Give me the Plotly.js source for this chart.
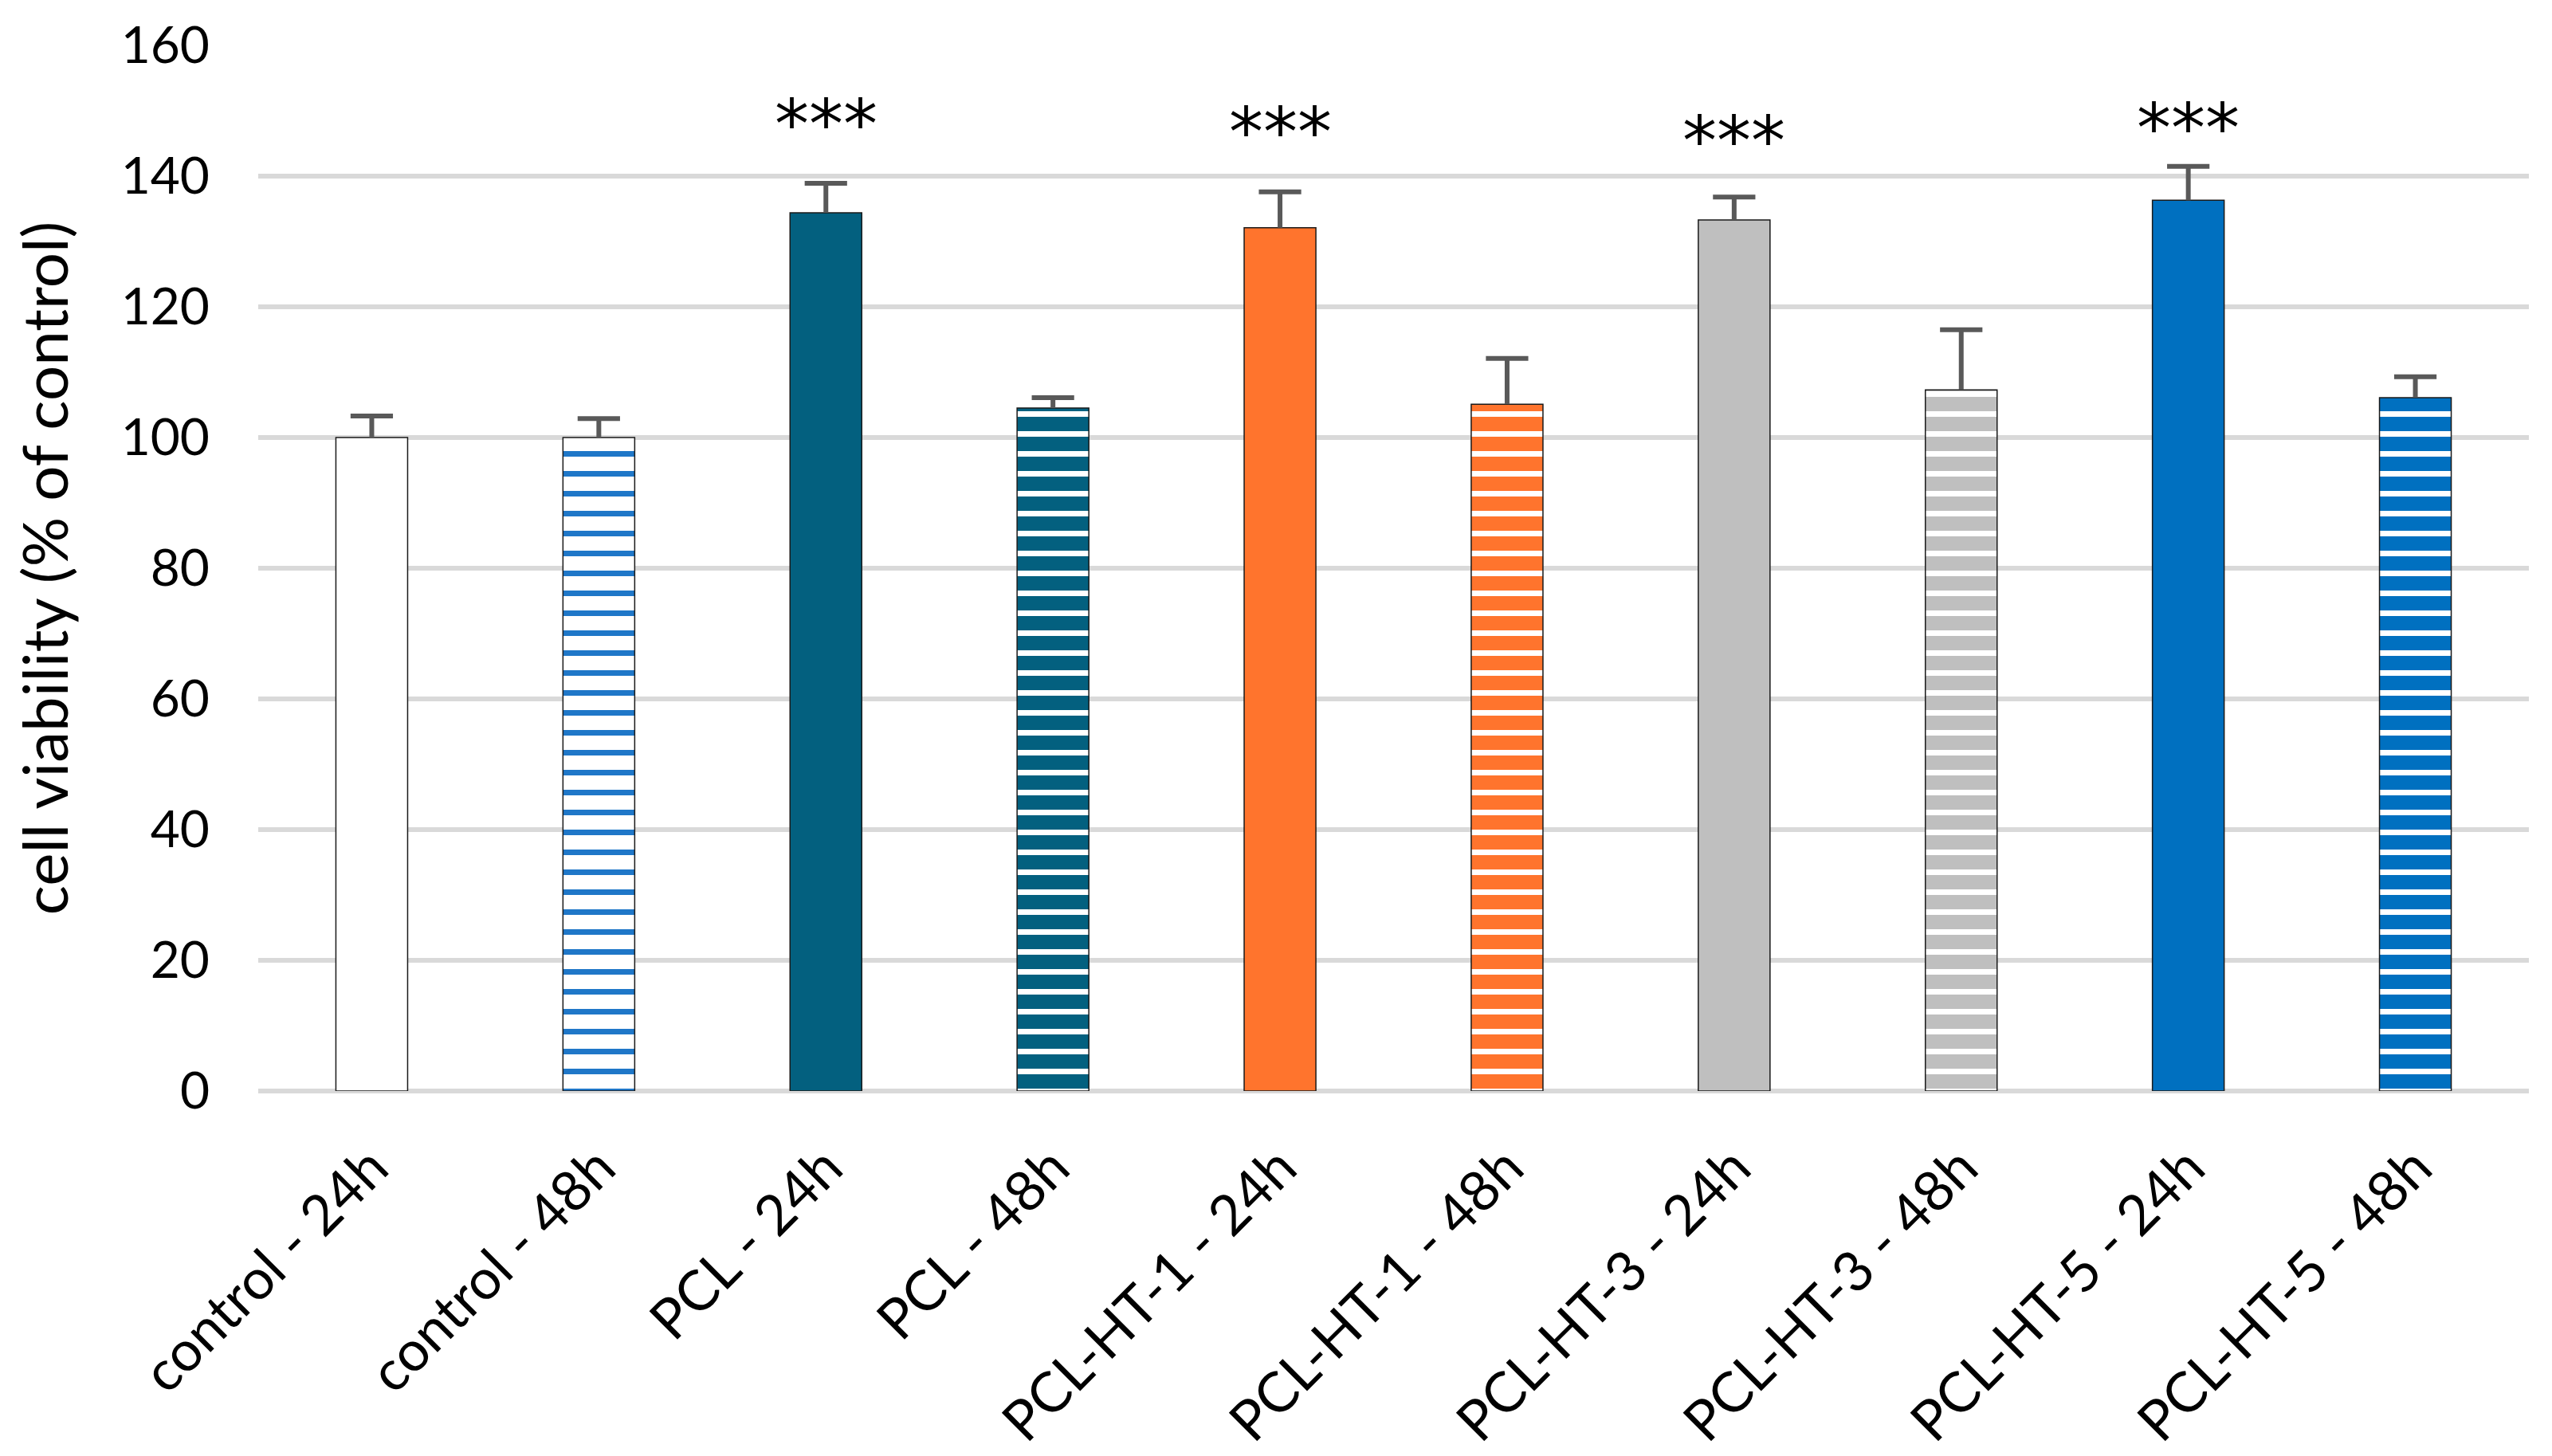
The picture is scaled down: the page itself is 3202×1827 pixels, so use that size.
<!DOCTYPE html>
<html>
<head>
<meta charset="utf-8">
<script src="https://cdn.plot.ly/plotly-3.0.1.min.js"></script>
<style>
  html, body { margin: 0; padding: 0; background: #ffffff; }
  #chart { width: 3202px; height: 1827px; }
</style>
</head>
<body>
<div id="chart"></div>
<script>
// Cell viability bars
const categories = [
    'control - 24h', 'control - 48h', 'PCL - 24h', 'PCL - 48h',
    'PCL-HT-1 - 24h', 'PCL-HT-1 - 48h', 'PCL-HT-3 - 24h', 'PCL-HT-3 - 48h',
    'PCL-HT-5 - 24h', 'PCL-HT-5 - 48h'
];
const viability = [100, 100, 134.4, 104.5, 132.1, 105.1, 133.3, 107.3, 136.3, 106.1];
const viabilityErr = [3.3, 2.9, 4.5, 1.6, 5.5, 7.0, 3.5, 9.2, 5.2, 3.2];

// significance marks above the 24h bars
const starCategories = ['PCL - 24h', 'PCL-HT-1 - 24h', 'PCL-HT-3 - 24h', 'PCL-HT-5 - 24h'];
const starLevels = [150.0, 148.8, 147.5, 149.4];
const starText = '***';

const yTicks = [0, 20, 40, 60, 80, 100, 120, 140, 160];

const Colors = {
    white: '#ffffff',
    stripeBlue: '#1f77c8',
    teal: '#03607f',
    orange: '#ff742d',
    grey: '#bfbfbf',
    blue: '#0070c0',
    errorBar: '#595959',
    outline: '#1a1a1a',
    grid: '#d9d9d9',
    text: '#000000'
};

// one colour per material: control, PCL, PCL-HT-1, PCL-HT-3, PCL-HT-5
const groupColors = [Colors.white, Colors.teal, Colors.orange, Colors.grey, Colors.blue];
// stripe colour of the 48h bars
const stripeColors = [Colors.stripeBlue, Colors.white, Colors.white, Colors.white, Colors.white];

const fontFamily = 'Lato, "Open Sans", sans-serif';

// split the series into the solid 24h bars and the striped 48h bars
const pick = (arr, is48) => arr.filter((_, i) => categories[i].endsWith('48h') === is48);

const errorStem = (err) => ({
    type: 'data',
    symmetric: false,
    array: err,
    arrayminus: err.map(() => 0),
    color: Colors.errorBar,
    thickness: 6,
    width: 0
});

const bars24 = {
    type: 'bar',
    name: '24h',
    x: pick(categories, false),
    y: pick(viability, false),
    marker: {
        color: groupColors,
        line: { color: Colors.outline, width: 1.5 }
    },
    error_y: errorStem(pick(viabilityErr, false)),
    hoverinfo: 'x+y'
};

const bars48 = {
    type: 'bar',
    name: '48h',
    x: pick(categories, true),
    y: pick(viability, true),
    marker: {
        color: Colors.white,
        line: { color: Colors.outline, width: 1.5 },
        pattern: {
            shape: '-',
            bgcolor: groupColors,
            fgcolor: stripeColors,
            size: 25,
            solidity: 0.28,
            fillmode: 'replace'
        }
    },
    error_y: errorStem(pick(viabilityErr, true)),
    hoverinfo: 'x+y'
};

// error bar caps (top only, like the original)
const caps = {
    type: 'scatter',
    mode: 'markers',
    x: categories,
    y: viability.map((v, i) => v + viabilityErr[i]),
    marker: {
        symbol: 'line-ew',
        size: 38,
        color: Colors.errorBar,
        line: { color: Colors.errorBar, width: 6 }
    },
    hoverinfo: 'skip'
};

const annotations = starCategories.map((c, i) => ({
    x: c,
    y: starLevels[i],
    xref: 'x',
    yref: 'y',
    text: starText,
    showarrow: false,
    yanchor: 'middle',
    yshift: -17,
    font: { family: 'DejaVu Sans, sans-serif', size: 86, color: Colors.text }
}));

const layout = {
    width: 3202,
    height: 1827,
    paper_bgcolor: '#ffffff',
    plot_bgcolor: '#ffffff',
    margin: { l: 324, r: 29, t: 57, b: 458 },
    font: { family: fontFamily, color: Colors.text },
    showlegend: false,
    barmode: 'overlay',
    bargap: 0.684,
    xaxis: {
        type: 'category',
        categoryorder: 'array',
        categoryarray: categories,
        range: [-0.5, categories.length - 0.5],
        tickangle: -45,
        tickfont: { family: fontFamily, size: 70, color: Colors.text },
        ticks: '',
        ticklabelstandoff: 40,
        showgrid: false,
        showline: false,
        zeroline: false,
        automargin: false
    },
    yaxis: {
        range: [0, 160],
        tickvals: yTicks,
        ticktext: yTicks.map(String),
        tickfont: { family: fontFamily, size: 64, color: Colors.text },
        ticks: '',
        ticklabelstandoff: 60,
        showgrid: true,
        gridcolor: Colors.grid,
        gridwidth: 6,
        zeroline: true,
        zerolinecolor: Colors.grid,
        zerolinewidth: 6,
        showline: false,
        automargin: false,
        title: {
            text: 'cell viability (% of control)',
            font: { family: fontFamily, size: 78, color: Colors.text },
            standoff: 40
        }
    },
    annotations: annotations
};

Plotly.newPlot('chart', [bars24, bars48, caps], layout, { displayModeBar: false, responsive: false });
</script>
</body>
</html>
